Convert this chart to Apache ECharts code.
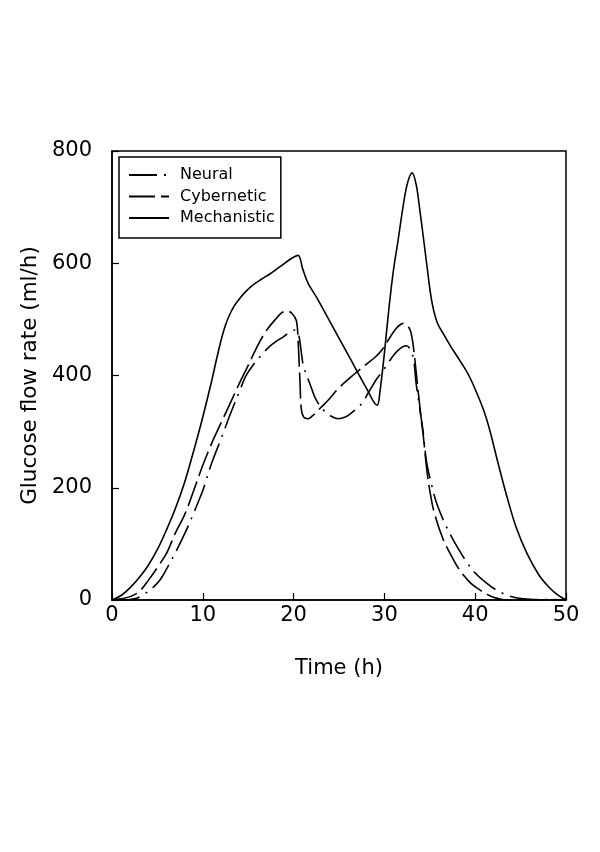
<!DOCTYPE html>
<html>
<head>
<meta charset="utf-8">
<script src="https://cdn.jsdelivr.net/npm/echarts@6/dist/echarts.min.js"></script>
<style>
html,body{margin:0;padding:0;background:#fff;}
#c{width:600px;height:852px;}
</style>
</head>
<body>
<div id="c"></div>
<script>
// ---- data ----
var xTicks = [0, 10, 20, 30, 40, 50];
var yTicks = [0, 200, 400, 600, 800];

var neuralT = [0, 1, 2, 2.7, 3.5, 4.5, 5.3, 6, 7, 8.2, 9, 10, 10.4, 11, 12.1, 13, 14, 14.7, 15.5, 16.5, 17.3, 18, 18.7, 19.3, 19.8, 20.2, 20.5, 20.7, 20.9, 21.1, 21.8, 22.5, 23.5, 24.3, 24.9, 25.7, 26.5, 27.5, 28.4, 29.2, 29.7, 30.4, 31.1, 31.9, 32.4, 32.8, 33.2, 33.5, 34, 34.3, 34.65, 35.2, 35.8, 36.85, 38, 39.05, 40, 41.25, 42.3, 43.45, 44.5, 45.5, 46.4, 47.5, 48.5, 50];
var neuralV = [0, 0, 1, 3, 10, 22, 36, 55, 85, 125, 155, 195, 215, 245, 291, 330, 370, 398, 418, 437, 451, 460, 467, 474, 479, 481, 475, 460, 435, 416, 385, 356, 335, 326, 323, 326, 335, 350, 374, 395, 405, 422, 438, 450, 453, 448, 430, 385, 330, 295, 245, 205, 170, 130, 95, 68, 48, 30, 18, 9, 4, 2, 1, 1, 1, 0];

var cyberT = [0, 1, 2, 3, 4, 5, 6, 7, 8, 9, 10, 11, 12, 13, 14, 15, 16, 17, 18, 18.7, 19.3, 19.8, 20.3, 20.5, 20.7, 20.85, 21.1, 21.6, 22, 23, 23.8, 25, 26.8, 28, 29, 29.7, 30.5, 31.2, 31.7, 32.1, 32.5, 32.9, 33.2, 33.55, 34, 34.3, 34.65, 35, 35.5, 36.5, 37.5, 38.3, 39.5, 40.5, 41.3, 42, 43, 44, 50];
var cyberV = [0, 2, 6, 15, 35, 58, 83, 120, 152, 195, 240, 280, 315, 350, 385, 418, 452, 480, 500, 512, 515, 511, 498, 460, 390, 340, 326, 323, 327, 343, 356, 378, 404, 420, 433, 445, 465, 482, 490, 493, 490, 478, 450, 398, 330, 290, 235, 195, 155, 107, 75, 53, 30, 18, 10, 5, 1, 0, 0];

var mechT = [0, 1, 2, 3, 4, 5, 6, 7, 8, 9, 10, 11, 11.5, 12, 12.5, 13, 13.5, 14, 14.7, 15.5, 16.5, 17.3, 18.5, 19.8, 20.5, 21, 21.6, 22.5, 24, 26, 28, 29.2, 29.5, 30, 30.5, 31, 31.5, 32, 32.5, 33.05, 33.5, 33.9, 34.3, 34.65, 35.2, 35.8, 36.5, 37.3, 38.3, 39.3, 40.2, 41, 41.6, 42.5, 43.5, 44.5, 45.7, 47, 48, 49, 50];
var mechV = [0, 8, 22, 40, 62, 90, 125, 164, 210, 266, 326, 392, 428, 462, 490, 510, 525, 536, 549, 561, 572, 580, 594, 609, 614, 590, 564, 540, 496, 437, 378, 347, 370, 440, 520, 588, 640, 695, 740, 761, 740, 695, 645, 600, 534, 495, 474, 452, 427, 400, 368, 335, 303, 245, 184, 130, 83, 45, 25, 10, 0];

var seriesNames = ['Neural', 'Cybernetic', 'Mechanistic'];

function pairs(t, v) { return t.map(function (x, i) { return [x, v[i]]; }); }

var FONT = 'DejaVu Sans';
var chart = echarts.init(document.getElementById('c'), null, { renderer: 'canvas' });
chart.setOption({
  animation: false,
  backgroundColor: '#fff',
  grid: { left: 112, right: 34, top: 151, bottom: 252, show: true, borderColor: '#000', borderWidth: 1.5, backgroundColor: 'transparent' },
  legend: {
    orient: 'vertical', left: 119, top: 157,
    padding: [10, 6, 12, 9],
    itemWidth: 40, itemHeight: 16, itemGap: 5.5,
    borderColor: '#000', borderWidth: 1.5,
    itemStyle: { color: 'rgba(0,0,0,0)', borderColor: 'rgba(0,0,0,0)', borderWidth: 0, opacity: 0 },
    textStyle: { fontFamily: FONT, fontSize: 16, color: '#000', padding: [0, 0, 0, 6] },
    data: seriesNames
  },
  xAxis: {
    type: 'value', min: 0, max: 50, interval: 10,
    name: 'Time (h)', nameLocation: 'middle', nameGap: 58,
    nameTextStyle: { fontFamily: FONT, fontSize: 21, color: '#000' },
    axisLine: { lineStyle: { color: '#000', width: 1.5 } },
    axisTick: { inside: true, length: 7, lineStyle: { color: '#000', width: 1.2 } },
    axisLabel: { fontFamily: FONT, fontSize: 21, color: '#000', margin: 5,
      formatter: function (v) { return xTicks.indexOf(v) >= 0 ? String(v) : ''; } },
    splitLine: { show: false }
  },
  yAxis: {
    type: 'value', min: 0, max: 800, interval: 200,
    name: 'Glucose flow rate (ml/h)', nameLocation: 'middle', nameGap: 65, nameRotate: 90,
    nameTextStyle: { fontFamily: FONT, fontSize: 21.5, color: '#000' },
    axisLine: { show: true, lineStyle: { color: '#000', width: 1.5 } },
    axisTick: { show: true, inside: true, length: 7, lineStyle: { color: '#000', width: 1.2 } },
    axisLabel: { fontFamily: FONT, fontSize: 21, color: '#000', margin: 20,
      formatter: function (v) { return yTicks.indexOf(v) >= 0 ? String(v) : ''; } },
    splitLine: { show: false }
  },
  series: [
    { name: seriesNames[0], type: 'line', data: pairs(neuralT, neuralV), showSymbol: false, symbol: 'none', smooth: 0.35,
      lineStyle: { color: '#000', width: 1.6, type: [28, 7, 2, 7] }, itemStyle: { color: '#000' } },
    { name: seriesNames[1], type: 'line', data: pairs(cyberT, cyberV), showSymbol: false, symbol: 'none', smooth: 0.35,
      lineStyle: { color: '#000', width: 1.6, type: [26, 6] }, itemStyle: { color: '#000' } },
    { name: seriesNames[2], type: 'line', data: pairs(mechT, mechV), showSymbol: false, symbol: 'none', smooth: 0.35,
      lineStyle: { color: '#000', width: 1.6, type: 'solid' }, itemStyle: { color: '#000' } }
  ]
});
</script>
</body>
</html>
